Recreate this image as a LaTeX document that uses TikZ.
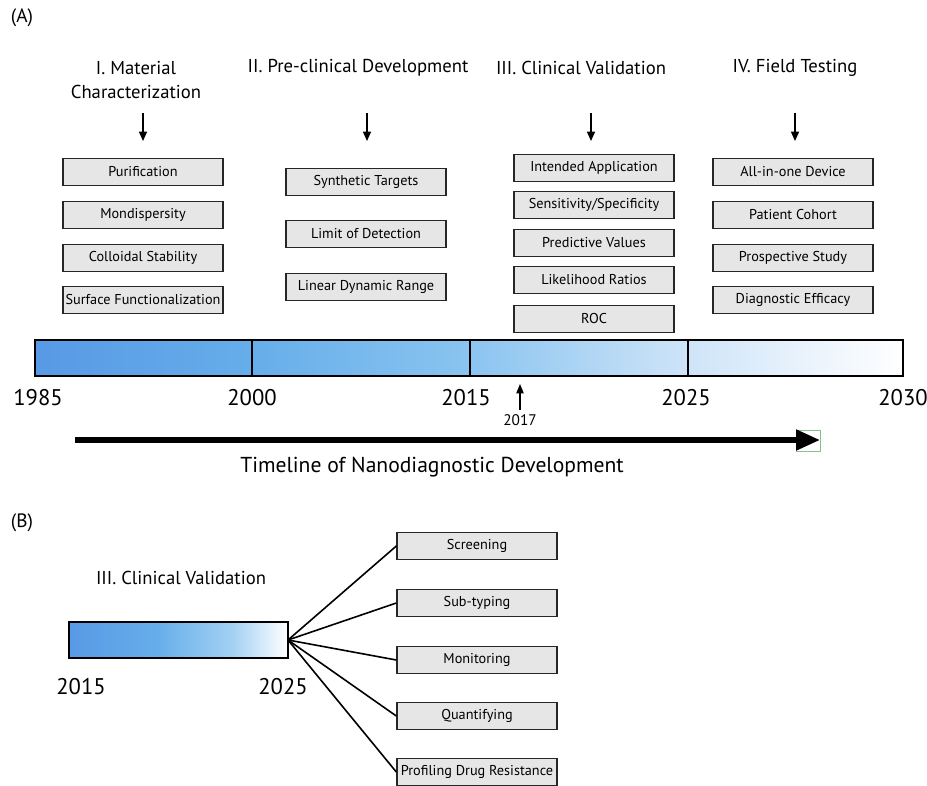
\documentclass[tikz,border=0pt]{standalone}
\usepackage{fontspec}
\setmainfont{PT Sans}
\usetikzlibrary{arrows.meta}

\definecolor{tlA}{RGB}{88,153,229}
\definecolor{tlB}{RGB}{102,174,234}
\definecolor{tlC}{RGB}{138,196,240}
\definecolor{tlD}{RGB}{206,228,248}
\definecolor{boxgray}{RGB}{230,230,230}
\definecolor{headframe}{RGB}{140,190,140}

% the shaded path covers the band 25bp..75bp of the shading
\pgfdeclarehorizontalshading{timeline}{100bp}{color(0bp)=(tlA); color(25bp)=(tlA); color(37.5bp)=(tlB); color(50bp)=(tlC); color(62.5bp)=(tlD); color(75bp)=(white); color(100bp)=(white)}
\pgfdeclarehorizontalshading{phasethree}{100bp}{color(0bp)=(tlA); color(25bp)=(tlA); color(45bp)=(tlB); color(62bp)=(tlC!80!white); color(75bp)=(white); color(100bp)=(white)}

\begin{document}
\begin{tikzpicture}[x=0.75pt,y=-0.75pt,
  stepbox/.style={draw=black!85, fill=boxgray, line width=1pt,
    minimum width=120pt, minimum height=20pt, inner sep=0.5pt,
    font=\fontsize{10.7}{12}\selectfont},
  phase/.style={font=\fontsize{14}{18}\selectfont, align=center},
  year/.style={font=\fontsize{17}{20}\selectfont},
  panel/.style={font=\fontsize{14.5}{16}\selectfont},
  downarrow/.style={-{Triangle[length=7pt,width=6pt]}, line width=1.1pt},
  barframe/.style={draw=black, line width=1.2pt},
  fan/.style={line width=1.2pt}]

\useasboundingbox (0,0) rectangle (927,785);

% ---------- panel A ----------
\node[panel] (labA) at (22,18) {(A)};

% phase headings
\node[phase] (h1) at (136,80) {I. Material\\Characterization};
\node[phase] (h2) at (358,68) {II. Pre-clinical Development};
\node[phase] (h3) at (581,68) {III. Clinical Validation};
\node[phase] (h4) at (795,68) {IV. Field Testing};

% arrows below the headings
\coordinate (a1s) at (143,113); \coordinate (a1e) at (143,141);
\coordinate (a2s) at (367,113); \coordinate (a2e) at (367,141);
\coordinate (a3s) at (591,113); \coordinate (a3e) at (591,141);
\coordinate (a4s) at (795,113); \coordinate (a4e) at (795,141);
\draw[downarrow] (a1s) -- (a1e);
\draw[downarrow] (a2s) -- (a2e);
\draw[downarrow] (a3s) -- (a3e);
\draw[downarrow] (a4s) -- (a4e);

% I. material characterization
\node[stepbox] (p1) at (143,172) {Purification};
\node[stepbox] (p2) at (143,215) {Mondispersity};
\node[stepbox] (p3) at (143,258) {Colloidal Stability};
\node[stepbox] (p4) at (143,300) {Surface Functionalization};

% II. pre-clinical development
\node[stepbox] (q1) at (366,182) {Synthetic Targets};
\node[stepbox] (q2) at (366,234) {Limit of Detection};
\node[stepbox] (q3) at (366,287) {Linear Dynamic Range};

% III. clinical validation
\node[stepbox] (r1) at (594,168) {Intended Application};
\node[stepbox] (r2) at (594,205) {Sensitivity/Specificity};
\node[stepbox] (r3) at (594,243) {Predictive Values};
\node[stepbox] (r4) at (594,280) {Likelihood Ratios};
\node[stepbox] (r5) at (594,319) {ROC};

% IV. field testing
\node[stepbox] (s1) at (793,172) {All-in-one Device};
\node[stepbox] (s2) at (793,215) {Patient Cohort};
\node[stepbox] (s3) at (793,258) {Prospective Study};
\node[stepbox] (s4) at (793,300) {Diagnostic Efficacy};

% timeline bar
\shade[shading=timeline] (35,340) rectangle (903,376);
\draw[barframe] (35,340) rectangle (903,376);
\draw[barframe] (252,340) -- (252,376);
\draw[barframe] (470,340) -- (470,376);
\draw[barframe] (688,340) -- (688,376);

% year labels
\node[year] (y1985) at (38,398) {1985};
\node[year] (y2000) at (252,398) {2000};
\node[year] (y2015) at (466,398) {2015};
\node[year] (y2025) at (686,398) {2025};
\node[year] (y2030) at (903,398) {2030};

% 2017 marker
\node[font=\fontsize{11.5}{13}\selectfont] (y2017) at (520,420) {2017};
\coordinate (m2017) at (520,384);
\draw[-{Triangle[length=7pt,width=5.5pt]}, line width=0.9pt] (y2017.north) -- (m2017);

% overall direction arrow
\coordinate (tlS) at (75,440);
\coordinate (tlE) at (820,440);
\draw[headframe, line width=0.5pt] (796,430) rectangle (820,451);
\draw[-{Triangle[length=18pt,width=15pt]}, line width=3.8pt] (tlS) -- (tlE);
\node[font=\fontsize{16.2}{19}\selectfont] (tltitle) at (432,467) {Timeline of Nanodiagnostic Development};

% ---------- panel B ----------
\node[panel] (labB) at (22,523) {(B)};
\node[phase] (hB) at (181,578) {III. Clinical Validation};

\shade[shading=phasethree] (69,622) rectangle (288,658);
\draw[barframe] (69,622) rectangle (288,658);
\coordinate (fanpt) at (288,640);

\node[year] (b2015) at (81,687) {2015};
\node[year] (b2025) at (283,687) {2025};

\node[stepbox] (u1) at (477,546) {Screening};
\node[stepbox] (u2) at (477,603) {Sub-typing};
\node[stepbox] (u3) at (477,660) {Monitoring};
\node[stepbox] (u4) at (477,716) {Quantifying};
\node[stepbox] (u5) at (477,772) {Profiling Drug Resistance};

\foreach \t in {u1,u2,u3,u4,u5}
  \draw[fan] (fanpt) -- (\t.west);

\end{tikzpicture}
\end{document}
